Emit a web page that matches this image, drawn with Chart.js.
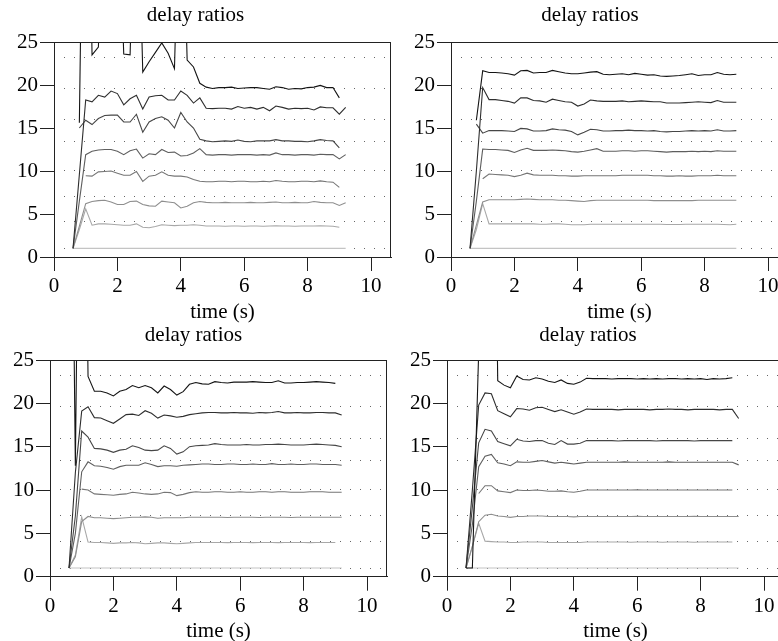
<!DOCTYPE html>
<html><head><meta charset="utf-8">
<script src="https://cdn.jsdelivr.net/npm/chart.js@4.4.0/dist/chart.umd.min.js"></script>
<style>
html,body{margin:0;padding:0;background:#fff;overflow:hidden;width:778px;height:641px;position:relative;}
canvas{position:absolute;}
</style></head><body>
<canvas id="c0"></canvas><canvas id="c1"></canvas><canvas id="c2"></canvas><canvas id="c3"></canvas>
<script>
const times = [0.6,0.8,1.0,1.2,1.4,1.6,1.8,2.0,2.2,2.4,2.6,
  2.8,3.0,3.2,3.4,3.6,3.8,4.0,4.2,4.4,4.6,4.8,
  5.0,5.2,5.4,5.6,5.8,6.0,6.2,6.4,6.6,6.8,7.0,
  7.2,7.4,7.6,7.8,8.0,8.2,8.4,8.6,8.8,9.0,9.2];
const refLevels = [1, 4.1, 7.05, 10.1, 13.4, 16.0, 19.6, 23.25];
const yTicks = [0,5,10,15,20,25];
const xTicks = [0,2,4,6,8,10];
const titleText = 'delay ratios';
const xTitle = 'time (s)';
const seriesColors = ['#c4c4c4','#a8a8a8','#8e8e8e','#767676','#5e5e5e','#464646','#2e2e2e','#141414'];

// ---- top-left ----
const tlS1 = [1,1,1,1,1,1,1,1,1,1,1, 1,1,1,1,1,1,1,1,1,1,1, 1,1,1,1,1,1,1,1,1,1,1, 1,1,1,1,1,1,1,1,1,1,1];
const tlS2 = [1,3.2,5.6,3.7,3.85,3.85,3.8,3.75,3.7,3.7,3.85,
  3.45,3.4,3.55,3.75,3.7,3.65,3.7,3.7,3.75,3.7,3.6,
  3.6,3.6,3.58,3.6,3.6,3.58,3.6,3.6,3.58,3.6,3.62,
  3.6,3.6,3.58,3.6,3.6,3.6,3.62,3.6,3.58,3.45,null];
const tlS3 = [1,3.6,6.2,6.45,6.55,6.6,6.4,6.1,6.1,6.45,6.5,
  6.1,5.95,5.9,6.5,6.4,6.3,5.7,5.9,6.3,6.45,6.35,
  6.3,6.3,6.35,6.3,6.3,6.3,6.35,6.3,6.3,6.35,6.4,
  6.3,6.3,6.35,6.3,6.3,6.45,6.35,6.3,6.3,6.0,6.3];
const tlS4 = [null,null,9.45,9.4,9.9,9.95,10.0,9.75,9.5,9.5,9.95,
  8.8,9.4,9.5,9.9,9.5,9.4,9.4,9.3,9.0,8.8,8.75,
  8.75,8.8,8.8,8.75,8.8,8.8,8.75,8.75,8.8,8.75,8.9,
  8.8,8.75,8.75,8.8,8.8,8.75,8.85,8.75,8.7,8.1,null];
const tlS5 = [1,6.5,11.9,12.3,12.45,12.5,12.5,12.3,11.9,12.35,12.55,
  11.5,12.0,11.9,12.5,12.15,12.2,11.75,11.8,12.1,12.6,11.9,
  11.85,11.9,11.9,11.85,11.9,11.9,11.9,11.85,11.9,11.85,12.1,
  11.9,11.9,11.85,11.9,11.9,11.85,11.95,11.9,11.9,11.4,11.9];
const tlS6 = [null,15.0,15.9,15.4,16.1,16.45,16.5,16.5,15.7,15.7,16.6,
  14.5,15.7,16.1,16.3,15.9,15.0,16.8,15.7,15.0,13.7,13.5,
  13.4,13.45,13.5,13.45,13.6,13.45,13.4,13.5,13.5,13.5,13.65,
  13.5,13.5,13.45,13.45,13.4,13.5,13.65,13.55,13.5,12.7,null];
const tlS7 = [1,9.6,18.25,18.05,18.8,18.6,19.3,19.0,17.7,18.4,18.8,
  17.2,18.6,18.75,18.8,18.25,18.25,19.3,18.8,17.9,18.5,17.3,
  17.25,17.3,17.3,17.2,17.5,17.3,17.4,17.2,17.4,17.0,17.55,
  17.4,17.2,17.3,17.25,17.3,17.1,17.45,17.35,17.35,16.6,17.4];
const tlS8 = [null,15.6,70,23.5,24.4,45,24.9,45,23.6,23.5,50,
  21.5,22.7,23.8,24.9,23.7,21.9,50,22.9,22.1,20.2,19.75,
  19.6,19.7,19.7,19.75,19.6,19.65,19.7,19.7,19.6,19.5,19.8,
  19.7,19.5,19.6,19.55,19.7,19.75,19.95,19.7,19.7,18.5,null];

// ---- top-right ----
const trS1 = [1,1,1,1,1,1,1,1,1,1,1, 1,1,1,1,1,1,1,1,1,1,1, 1,1,1,1,1,1,1,1,1,1,1, 1,1,1,1,1,1,1,1,1,1,null];
const trS2 = [1,3.2,6.2,3.85,3.85,3.85,3.85,3.85,3.85,3.85,3.85,
  3.8,3.8,3.85,3.85,3.8,3.75,3.75,3.75,3.8,3.8,3.8,
  3.8,3.8,3.8,3.8,3.8,3.8,3.8,3.8,3.8,3.78,3.78,
  3.78,3.8,3.8,3.8,3.8,3.8,3.8,3.78,3.75,3.8,null];
const trS3 = [1,3.7,6.4,6.65,6.65,6.65,6.65,6.65,6.7,6.75,6.7,
  6.65,6.65,6.65,6.6,6.6,6.55,6.5,6.45,6.55,6.6,6.6,
  6.6,6.6,6.6,6.6,6.6,6.6,6.6,6.55,6.55,6.55,6.55,
  6.55,6.55,6.55,6.6,6.6,6.6,6.6,6.6,6.6,6.6,null];
const trS4 = [null,null,9.1,9.65,9.6,9.55,9.5,9.35,9.5,9.75,9.55,
  9.5,9.5,9.5,9.45,9.45,9.4,9.4,9.45,9.45,9.45,9.45,
  9.45,9.45,9.5,9.5,9.5,9.5,9.5,9.45,9.45,9.4,9.4,
  9.45,9.4,9.4,9.45,9.45,9.45,9.5,9.45,9.45,9.45,null];
const trS5 = [1,6.5,12.55,12.5,12.5,12.45,12.4,12.15,12.45,12.65,12.4,
  12.4,12.4,12.45,12.4,12.35,12.25,12.2,12.3,12.45,12.6,12.3,
  12.3,12.3,12.35,12.35,12.3,12.35,12.35,12.3,12.25,12.2,12.25,
  12.25,12.25,12.3,12.25,12.3,12.25,12.35,12.3,12.3,12.3,null];
const trS6 = [null,15.45,14.4,14.7,14.7,14.7,14.65,14.6,14.95,14.9,14.65,
  14.65,14.7,14.9,14.8,14.75,14.6,14.2,14.5,14.85,14.8,14.65,
  14.65,14.7,14.7,14.75,14.7,14.7,14.65,14.7,14.6,14.55,14.6,
  14.6,14.65,14.7,14.65,14.7,14.65,14.8,14.65,14.65,14.7,null];
const trS7 = [1,10.0,19.7,18.3,18.3,18.2,18.1,17.9,18.5,18.5,18.2,
  18.15,18.0,18.35,18.2,18.05,18.0,17.55,17.8,18.25,18.15,18.1,
  18.1,18.1,18.15,18.05,18.1,18.15,18.1,18.05,18.05,17.9,17.9,
  17.9,17.95,18.0,18.05,18.0,17.95,18.2,18.0,18.0,18.0,null];
const trS8 = [null,15.9,21.65,21.45,21.45,21.4,21.3,21.15,21.65,21.7,21.4,
  21.45,21.45,21.7,21.55,21.4,21.3,21.3,21.4,21.5,21.55,21.25,
  21.2,21.25,21.3,21.2,21.35,21.25,21.15,21.2,21.05,21.0,21.05,
  21.1,21.2,21.3,21.1,21.2,21.2,21.45,21.25,21.2,21.25,null];

// ---- bottom-left ----
const blS1 = [1,1,1,1,1,1,1,1,1,1,1, 1,1,1,1,1,1,1,1,1,1,1, 1,1,1,1,1,1,1,1,1,1,1, 1,1,1,1,1,1,1,1,1,1,1];
const blS2 = [1,2.5,6.9,4.0,3.95,3.95,3.9,3.85,3.9,3.9,3.95,
  3.9,3.8,3.85,3.9,3.9,3.85,3.8,3.85,3.9,3.95,3.95,
  3.95,3.95,3.95,3.93,3.95,3.95,3.95,3.93,3.95,3.95,3.95,
  3.93,3.95,3.95,3.95,3.95,3.93,3.95,3.95,3.95,3.95,null];
const blS3 = [1,2.3,6.35,6.95,6.8,6.8,6.75,6.7,6.75,6.8,6.85,
  6.85,6.9,6.85,6.75,6.8,6.8,6.8,6.8,6.85,6.85,6.85,
  6.85,6.85,6.85,6.83,6.85,6.85,6.85,6.85,6.83,6.85,6.85,
  6.85,6.85,6.83,6.85,6.85,6.85,6.85,6.85,6.85,6.85,6.85];
const blS4 = [null,null,10.1,10.0,9.55,9.5,9.45,9.4,9.5,9.55,9.75,
  9.65,9.55,9.5,9.55,9.75,9.7,9.35,9.5,9.7,9.8,9.75,
  9.75,9.8,9.8,9.75,9.75,9.8,9.75,9.75,9.8,9.8,9.75,
  9.8,9.8,9.75,9.75,9.75,9.8,9.8,9.8,9.75,9.75,9.75];
const blS5 = [1,5.0,12.1,13.25,12.8,12.75,12.6,12.4,12.7,12.85,12.85,
  12.85,13.15,12.95,12.7,12.8,12.8,12.75,12.85,12.9,12.95,13.0,
  13.0,12.95,12.95,13.0,13.0,12.95,12.95,13.0,12.95,12.95,13.05,
  12.95,12.95,13.0,12.95,12.95,13.0,13.0,12.95,12.95,12.95,12.85];
const blS6 = [1,7.0,16.8,16.1,14.8,14.75,14.6,14.35,14.6,14.7,15.1,
  14.9,14.6,14.55,14.6,15.1,14.8,14.15,14.4,15.0,15.1,15.15,
  15.2,15.35,15.25,15.2,15.2,15.2,15.25,15.2,15.2,15.25,15.25,
  15.3,15.25,15.2,15.2,15.2,15.25,15.3,15.25,15.2,15.15,15.0];
const blS7 = [1,12.0,19.1,19.6,18.35,18.3,18.0,17.7,18.2,18.7,18.75,
  18.6,19.15,18.85,18.3,18.65,18.55,18.4,18.5,18.7,18.8,18.9,
  18.95,18.95,18.9,18.9,18.95,18.9,18.9,18.85,18.95,18.9,18.95,
  19.05,18.9,18.9,18.95,18.9,18.9,18.95,18.95,18.9,18.9,18.65];
const blS8 = [80,12.8,80,23.1,21.4,21.4,21.2,20.85,21.4,21.6,22.05,
  21.8,22.05,21.8,21.2,22.0,21.6,20.95,21.35,22.2,22.4,22.25,
  22.2,22.5,22.4,22.35,22.45,22.45,22.45,22.5,22.45,22.4,22.4,
  22.6,22.35,22.35,22.4,22.4,22.45,22.5,22.45,22.4,22.3,null];

// ---- bottom-right ----
const brS1 = [1,1,1,1,1,1,1,1,1,1,1, 1,1,1,1,1,1,1,1,1,1,1, 1,1,1,1,1,1,1,1,1,1,1, 1,1,1,1,1,1,1,1,1,1,1];
const brS2 = [1,3.5,6.15,4.1,4.05,4.0,4.0,3.95,3.95,4.0,4.0,
  4.0,4.0,3.95,3.95,3.95,3.95,3.95,3.95,4.0,4.0,4.0,
  4.0,4.0,4.0,4.0,3.98,4.0,4.0,4.0,4.0,3.98,4.0,
  4.0,4.0,4.0,3.98,4.0,4.0,4.0,4.0,4.0,4.0,null];
const brS3 = [1,3.5,6.35,7.1,7.2,7.0,6.95,6.85,6.95,6.95,7.0,
  7.0,7.0,6.95,6.95,6.95,6.95,6.9,6.95,6.95,6.95,6.95,
  6.95,6.95,6.95,6.95,6.95,6.97,6.95,6.95,6.95,6.95,6.95,
  6.95,6.95,6.95,6.97,6.95,6.95,6.95,6.95,6.95,6.95,6.95];
const brS4 = [null,null,9.6,10.5,10.5,9.9,9.8,9.7,10.0,9.95,9.95,
  10.0,9.95,9.85,9.85,9.9,9.8,9.75,9.85,10.0,10.0,10.0,
  10.0,10.0,10.0,10.0,10.0,10.02,10.0,10.0,10.0,10.0,10.0,
  10.0,10.0,10.0,10.0,10.0,10.0,10.0,10.0,10.0,10.0,null];
const brS5 = [1,6.0,12.7,13.9,14.1,13.15,13.0,12.8,13.25,13.2,13.2,
  13.3,13.4,13.25,13.1,13.2,13.1,13.0,13.1,13.2,13.2,13.2,
  13.2,13.2,13.2,13.25,13.2,13.2,13.2,13.2,13.2,13.2,13.25,
  13.2,13.2,13.2,13.2,13.2,13.2,13.2,13.2,13.2,13.2,12.9];
const brS6 = [1,8.0,15.45,17.0,16.8,15.6,15.35,15.1,15.85,15.65,15.6,
  15.7,15.7,15.4,15.25,15.7,15.3,15.3,15.4,15.7,15.7,15.7,
  15.7,15.7,15.65,15.7,15.7,15.7,15.7,15.7,15.65,15.7,15.7,
  15.7,15.7,15.7,15.65,15.7,15.7,15.7,15.7,15.7,15.7,null];
const brS7 = [1,10.0,19.8,21.2,21.1,19.15,18.8,18.45,19.4,19.35,19.2,
  19.5,19.55,19.3,19.05,19.25,19.0,18.75,19.0,19.35,19.3,19.3,
  19.3,19.3,19.25,19.3,19.3,19.3,19.3,19.25,19.3,19.3,19.35,
  19.3,19.3,19.25,19.3,19.3,19.3,19.3,19.25,19.3,19.3,18.25];
const brS8 = [1,1,26,60,80,22.6,22.1,21.8,23.15,22.75,22.7,
  22.95,22.8,22.55,22.4,22.7,22.3,22.2,22.45,22.9,22.85,22.85,
  22.85,22.8,22.85,22.85,22.85,22.8,22.85,22.8,22.85,22.8,22.85,
  22.85,22.8,22.85,22.8,22.85,22.75,22.85,22.8,22.85,22.95,null];

const xMax = 10.63;
const axisColor = '#222';
const FONT = "'Liberation Serif', 'Times New Roman', serif";

const panels = [
  {id:'c0', left:0,   top:0,   w:393, h:325, yw:54, tpt:3, tpb:13.8, xh:68, series:[tlS1,tlS2,tlS3,tlS4,tlS5,tlS6,tlS7,tlS8]},
  {id:'c1', left:392, top:0,   w:398, h:325, yw:59, tpt:3, tpb:13.8, xh:68, series:[trS1,trS2,trS3,trS4,trS5,trS6,trS7,trS8]},
  {id:'c2', left:0,   top:320, w:389, h:324, yw:50, tpt:3, tpb:11.8, xh:67.3, series:[blS1,blS2,blS3,blS4,blS5,blS6,blS7,blS8]},
  {id:'c3', left:392, top:320, w:394, h:324, yw:55, tpt:3, tpb:11.8, xh:67.3, series:[brS1,brS2,brS3,brS4,brS5,brS6,brS7,brS8]}
];

const framePlugin = {
  id:'frame',
  afterDatasetsDraw(chart){
    const {ctx, chartArea:a} = chart;
    ctx.save();
    ctx.strokeStyle = axisColor; ctx.lineWidth = 1;
    ctx.beginPath();
    ctx.moveTo(a.left, Math.round(a.top)+0.5); ctx.lineTo(a.right, Math.round(a.top)+0.5);
    ctx.moveTo(Math.round(a.right)-0.5, a.top); ctx.lineTo(Math.round(a.right)-0.5, a.bottom);
    ctx.stroke();
    ctx.restore();
  }
};

Chart.defaults.font.family = FONT;
Chart.defaults.font.size = 21;
Chart.defaults.color = '#000';

panels.forEach(p => {
  const cv = document.getElementById(p.id);
  cv.width = p.w; cv.height = p.h;
  cv.style.left = p.left + 'px'; cv.style.top = p.top + 'px';
  cv.style.width = p.w + 'px'; cv.style.height = p.h + 'px';
  const datasets = p.series.map((vals, i) => ({
    data: times.map((t, k) => ({x: t, y: vals[k]})),
    borderColor: seriesColors[i],
    borderWidth: 1.1,
    pointRadius: 0,
    tension: 0,
    spanGaps: false,
    order: 7 - i
  }));
  new Chart(cv, {
    type: 'line',
    data: {datasets},
    plugins: [framePlugin],
    options: {
      responsive: false, animation: false, devicePixelRatio: 1,
      layout: {padding: {left: 0, right: 2, top: 0, bottom: 0}},
      plugins: {
        legend: {display: false}, tooltip: {enabled: false},
        title: {display: true, text: titleText, color: '#000',
          font: {size: 21, weight: 'normal', family: FONT},
          padding: {top: p.tpt, bottom: p.tpb}}
      },
      scales: {
        x: {
          type: 'linear', min: 0, max: xMax,
          afterBuildTicks: s => { s.ticks = xTicks.map(v => ({value: v})); },
          afterFit: s => { s.height = p.xh; },
          grid: {drawOnChartArea: false, drawTicks: true, tickLength: 14, color: axisColor, lineWidth: 1},
          border: {display: true, color: axisColor, width: 1},
          ticks: {padding: 3, color: '#000', maxRotation: 0, autoSkip: false, font: {size: 21}},
          title: {display: true, text: xTitle, color: '#000', font: {size: 21}, padding: {top: 0, bottom: 0}}
        },
        y: {
          type: 'linear', min: 0, max: 25, position: 'left',
          afterBuildTicks: s => { s.ticks = yTicks.map(v => ({value: v})); },
          afterFit: s => { s.width = p.yw; },
          grid: {drawOnChartArea: false, drawTicks: true, tickLength: 14, color: axisColor, lineWidth: 1},
          border: {display: true, color: axisColor, width: 1},
          ticks: {padding: 2, color: '#000', font: {size: 21}}
        },
        yref: {
          type: 'linear', min: 0, max: 25, position: 'left',
          afterBuildTicks: s => { s.ticks = refLevels.map(v => ({value: v})); },
          afterFit: s => { s.width = 0; },
          grid: {drawOnChartArea: true, drawTicks: false, color: '#666', lineWidth: 1},
          border: {display: false, dash: [1, 9]},
          ticks: {display: false}
        }
      }
    }
  });
});
</script>
</body></html>
